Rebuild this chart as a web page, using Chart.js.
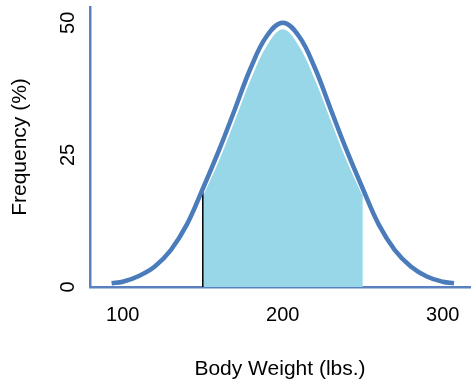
<!DOCTYPE html>
<html>
<head>
<meta charset="utf-8">
<script src="https://cdn.jsdelivr.net/npm/chart.js@4"></script>
<style>
  html, body { margin: 0; padding: 0; background: #fff; }
  #wrap { width: 474px; height: 382px; }
</style>
</head>
<body>
<div id="wrap"><canvas id="chart"></canvas></div>
<script>
// curve
const curveX = [93, 100, 110, 120, 130, 140, 150, 160, 170, 180, 190, 200, 210, 220, 230, 240, 250, 260, 270, 280, 290, 300, 307];
const curveY = [0.7, 1.0, 2.1, 3.9, 7.0, 11.8, 18.6, 25.8, 33.6, 41.5, 47.5, 50, 47.5, 41.5, 33.6, 25.8, 18.6, 11.8, 7.0, 3.9, 2.0, 1.0, 0.7];

// shaded band 150-250 (sits just inside the curve)
const bandX = [150, 160, 170, 180, 190, 200, 210, 220, 230, 240, 250];
const bandY = [17.6, 24.3, 32.0, 39.8, 46.0, 49.0, 46.0, 39.8, 32.0, 24.3, 17.6];

// black marker at x = 150
const markX = [150, 150];
const markY = [0, 18.6];

const xTicks = [100, 200, 300];
const yTicks = [0, 25, 50];

function pts(xs, ys) {
    return xs.map((x, i) => ({ x: x, y: ys[i] }));
}

const font = "'Liberation Sans', Arial, sans-serif";
const axisColor = '#5b80bf';

new Chart(document.getElementById('chart'), {
    type: 'line',
    data: {
        datasets: [
            {
                data: pts(curveX, curveY),
                borderColor: '#4a7bbb',
                borderWidth: 4.5,
                pointRadius: 0,
                tension: 0.4,
                fill: false
            },
            {
                data: pts(markX, markY),
                borderColor: '#000',
                borderWidth: 1.5,
                pointRadius: 0,
                fill: false
            },
            {
                data: pts(bandX, bandY),
                borderColor: '#ffffff',
                borderWidth: 2,
                backgroundColor: '#98d7e8',
                pointRadius: 0,
                tension: 0.4,
                fill: 'origin'
            }
        ]
    },
    options: {
        responsive: true,
        maintainAspectRatio: false,
        animation: false,
        layout: { padding: { top: 7, right: 4, left: 0, bottom: 0 } },
        plugins: {
            legend: { display: false },
            tooltip: { enabled: false }
        },
        scales: {
            x: {
                type: 'linear',
                min: 79.5,
                max: 317,
                afterBuildTicks: s => { s.ticks = xTicks.map(v => ({ value: v })); },
                afterFit: s => { s.height = 95; s.paddingLeft = 0; s.paddingRight = 0; },
                grid: { display: false, drawTicks: false },
                border: { color: axisColor, width: 2.5 },
                ticks: {
                    color: '#000',
                    padding: 16,
                    maxRotation: 0,
                    font: { family: font, size: 20 }
                },
                title: {
                    display: true,
                    text: 'Body Weight (lbs.)',
                    color: '#000',
                    padding: { top: 20, bottom: 0 },
                    font: { family: font, size: 21 }
                }
            },
            y: {
                type: 'linear',
                min: 0,
                max: 53,
                afterBuildTicks: s => { s.ticks = yTicks.map(v => ({ value: v })); },
                afterFit: s => { s.width = 90; s.paddingTop = 0; s.paddingBottom = 0; },
                grid: { display: false, drawTicks: false },
                border: { color: axisColor, width: 2.5 },
                ticks: {
                    color: '#000',
                    padding: 10,
                    crossAlign: 'center',
                    minRotation: 90,
                    maxRotation: 90,
                    font: { family: font, size: 20 }
                },
                title: {
                    display: true,
                    text: 'Frequency (%)',
                    color: '#000',
                    padding: { top: 8, bottom: 4 },
                    font: { family: font, size: 21 }
                }
            }
        }
    }
});
</script>
</body>
</html>
